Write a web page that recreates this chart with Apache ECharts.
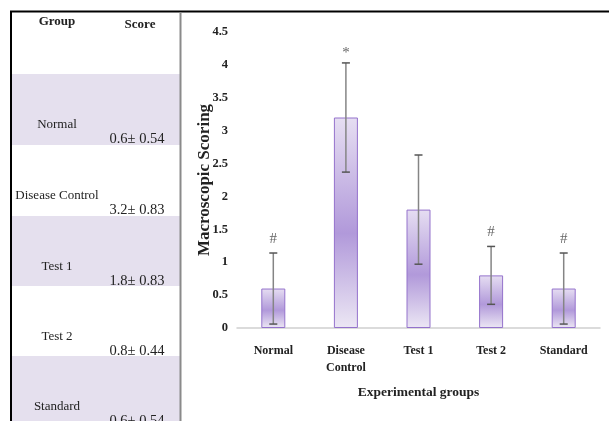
<!DOCTYPE html>
<html>
<head>
<meta charset="utf-8">
<script src="https://cdn.jsdelivr.net/npm/echarts@6/dist/echarts.min.js"></script>
<style>html,body{margin:0;padding:0;background:#fff;}#c{width:609px;height:421px;}</style>
</head>
<body>
<div id="c"></div>
<script>
// ---- data ----
var categories = ['Normal', 'Disease\nControl', 'Test 1', 'Test 2', 'Standard'];
var means = [0.6, 3.2, 1.8, 0.8, 0.6];
var sds = [0.54, 0.83, 0.83, 0.44, 0.54];
var sigMarks = ['#', '*', '', '#', '#'];
var tableHeader = ['Group', 'Score'];
var tableGroups = ['Normal', 'Disease Control', 'Test 1', 'Test 2', 'Standard'];
var tableScores = ['0.6\u00b1 0.54', '3.2\u00b1 0.83', '1.8\u00b1 0.83', '0.8\u00b1 0.44', '0.6\u00b1 0.54'];
var yTicks = {min: 0, max: 4.5, interval: 0.5};

var serif = '"Liberation Serif", "Times New Roman", serif';
var chart = echarts.init(document.getElementById('c'), null, {renderer: 'canvas'});

// ---- table graphics ----
var rowTops = [74, 145, 216, 286, 356];
var rowBottoms = [145, 216, 286, 356, 421];
var gfx = [];
for (var i = 0; i < tableGroups.length; i++) {
  if (i % 2 === 0) {
    gfx.push({type: 'rect', shape: {x: 11, y: rowTops[i], width: 169, height: rowBottoms[i] - rowTops[i]},
      style: {fill: '#e5e0ee'}, z: 0});
  }
  gfx.push({type: 'text', x: 57, y: rowTops[i] + 51, style: {text: tableGroups[i], font: '13px ' + serif,
    fill: '#222', textAlign: 'center', textVerticalAlign: 'middle'}, z: 2});
  gfx.push({type: 'text', x: 137, y: rowTops[i] + 65, style: {text: tableScores[i], font: '14.5px ' + serif,
    fill: '#222', textAlign: 'center', textVerticalAlign: 'middle'}, z: 2});
}
gfx.push({type: 'text', x: 57, y: 22, style: {text: tableHeader[0], font: 'bold 13px ' + serif, fill: '#222',
  textAlign: 'center', textVerticalAlign: 'middle'}, z: 2});
gfx.push({type: 'text', x: 140, y: 25, style: {text: tableHeader[1], font: 'bold 13px ' + serif, fill: '#222',
  textAlign: 'center', textVerticalAlign: 'middle'}, z: 2});
// borders
gfx.push({type: 'line', shape: {x1: 10, y1: 11.5, x2: 609, y2: 11.5}, style: {stroke: '#000', lineWidth: 2}, z: 5});
gfx.push({type: 'line', shape: {x1: 11, y1: 11, x2: 11, y2: 421}, style: {stroke: '#000', lineWidth: 2}, z: 5});
gfx.push({type: 'line', shape: {x1: 180.5, y1: 12, x2: 180.5, y2: 421}, style: {stroke: '#8a8a8a', lineWidth: 2}, z: 5});

var barGrad = new echarts.graphic.LinearGradient(0, 0, 0, 1, [
  {offset: 0, color: '#e6def2'},
  {offset: 0.55, color: '#b199da'},
  {offset: 1, color: '#ece7f4'}
]);

var option = {
  backgroundColor: '#fff',
  animation: false,
  grid: {left: 237, right: 9, top: 32, bottom: 93},
  xAxis: {
    type: 'category', data: categories,
    axisLine: {lineStyle: {color: '#d0d0d0', width: 1.5}},
    axisTick: {show: false},
    axisLabel: {margin: 14, fontFamily: serif, fontWeight: 'bold', fontSize: 12, color: '#222', lineHeight: 17},
    name: 'Experimental groups', nameLocation: 'middle', nameGap: 58,
    nameTextStyle: {fontFamily: serif, fontWeight: 'bold', fontSize: 13.5, color: '#222'}
  },
  yAxis: {
    type: 'value', min: yTicks.min, max: yTicks.max, interval: yTicks.interval,
    axisLine: {show: false}, axisTick: {show: false}, splitLine: {show: false},
    axisLabel: {margin: 9, fontFamily: serif, fontWeight: 'bold', fontSize: 12.5, color: '#222'},
    name: 'Macroscopic Scoring', nameLocation: 'middle', nameGap: 24, nameMoveOverlap: false,
    nameTextStyle: {fontFamily: serif, fontWeight: 'bold', fontSize: 17, color: '#222'}
  },
  graphic: gfx,
  series: [
    {
      type: 'bar', data: means, barWidth: 24,
      itemStyle: {color: barGrad, borderColor: '#9472cc', borderWidth: 1}
    },
    {
      type: 'custom',
      data: means.map(function (m, i) { return [i, m - sds[i], m + sds[i]]; }),
      renderItem: function (params, api) {
        var x = api.coord([api.value(0), 0])[0];
        var lo = api.coord([api.value(0), api.value(1)])[1];
        var hi = api.coord([api.value(0), api.value(2)])[1];
        var st = {stroke: '#858585', lineWidth: 1.5};
        var mark = sigMarks[params.dataIndex];
        return {type: 'group', children: [
          {type: 'line', shape: {x1: x, y1: lo, x2: x, y2: hi}, style: st},
          {type: 'line', shape: {x1: x - 4, y1: lo, x2: x + 4, y2: lo}, style: {stroke: '#555', lineWidth: 1.5}},
          {type: 'line', shape: {x1: x - 4, y1: hi, x2: x + 4, y2: hi}, style: {stroke: '#555', lineWidth: 1.5}},
          {type: 'text', x: x, y: hi - (mark === '*' ? 10 : 14), style: {text: mark, font: '15px ' + serif, fill: '#666',
            textAlign: 'center', textVerticalAlign: 'middle'}}
        ]};
      },
      z: 3
    }
  ]
};
chart.setOption(option);
</script>
</body>
</html>
